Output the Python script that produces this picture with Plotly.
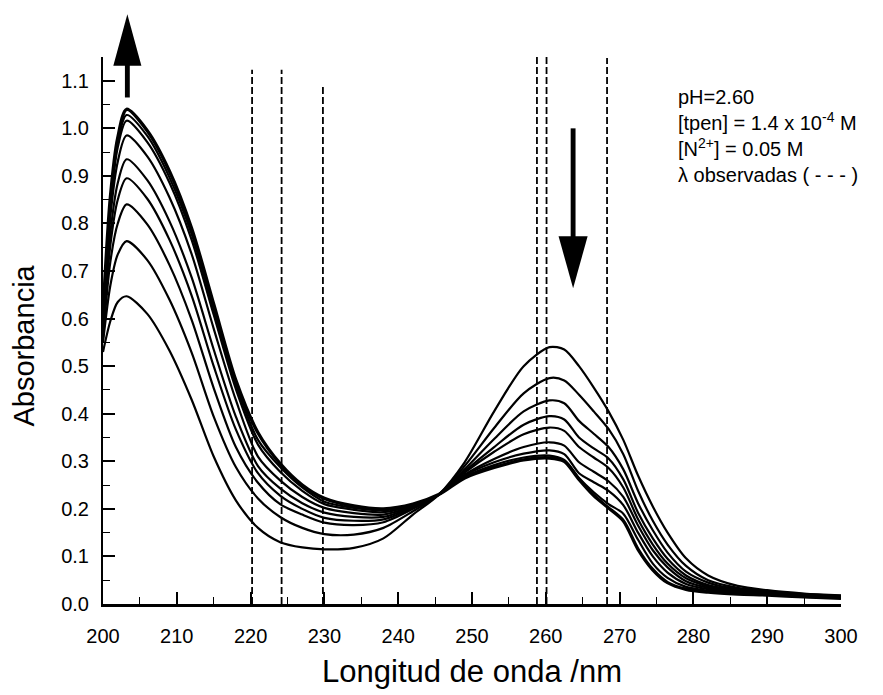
import plotly.graph_objects as go

# ---------------- data ----------------
wavelength = [200, 201, 202, 203.2, 206, 209, 212, 215, 218, 221, 224, 227, 230, 234, 238,
              242, 245.5, 249, 253, 257, 260.5, 262.5, 264.5, 266.5, 268.5, 270.5, 272.5,
              274.5, 276.5, 279, 282, 286, 290, 295, 300]

abs_1 = [.53, .595, .635, .647, .61, .533, .43, .31, .218, .16, .13, .119, .115, .118, .138,
         .188, .23, .298, .405, .50, .54, .535, .50, .455, .405, .345, .27,
         .205, .15, .096, .06, .038, .029, .022, .018]
abs_2 = [.55, .67, .735, .763, .723, .640, .529, .394, .288, .222, .183, .16, .147, .146, .16,
         .195, .23, .29, .37, .443, .475, .47, .44, .405, .368, .315, .238,
         .175, .125, .08, .05, .034, .027, .021, .017]
abs_3 = [.56, .72, .80, .84, .798, .713, .598, .454, .33, .255, .21, .188, .171, .166, .172,
         .20, .23, .283, .347, .405, .428, .422, .385, .358, .33, .283, .212,
         .155, .108, .068, .045, .031, .025, .019, .016]
abs_4 = [.57, .755, .85, .895, .852, .766, .649, .50, .367, .275, .228, .20, .181, .175, .178,
         .202, .23, .279, .33, .377, .395, .388, .35, .327, .306, .262, .192,
         .138, .095, .06, .04, .029, .024, .018, .015]
abs_5 = [.58, .78, .885, .935, .891, .805, .687, .535, .394, .29, .243, .212, .192, .183, .183,
         .204, .23, .276, .32, .357, .371, .364, .33, .308, .286, .245, .178,
         .125, .085, .054, .037, .027, .023, .017, .015]
abs_6 = [.59, .815, .93, .985, .941, .855, .736, .579, .429, .31, .26, .225, .202, .191, .188,
         .206, .23, .272, .305, .33, .34, .333, .298, .278, .258, .225, .165,
         .113, .077, .048, .034, .025, .022, .016, .014]
abs_7 = [.60, .835, .96, 1.016, .971, .886, .766, .608, .452, .335, .278, .238, .21, .198, .193,
         .208, .23, .27, .298, .316, .323, .315, .275, .256, .238, .208, .15,
         .10, .066, .042, .031, .024, .021, .016, .013]
abs_8 = [.60, .845, .97, 1.028, .984, .897, .778, .619, .461, .345, .288, .245, .215, .202, .197,
         .209, .23, .267, .292, .308, .312, .303, .265, .235, .21, .19, .135,
         .085, .055, .036, .028, .022, .02, .015, .013]
abs_9 = [.61, .855, .98, 1.04, .995, .91, .79, .63, .47, .36, .295, .25, .222, .206, .20,
         .21, .23, .265, .287, .303, .307, .30, .262, .228, .202, .175, .115,
         .072, .045, .031, .025, .021, .019, .015, .012]

spectra = [abs_1, abs_2, abs_3, abs_4, abs_5, abs_6, abs_7, abs_8, abs_9]

lambda_obs = [220.2, 224.2, 229.8, 258.8, 260.1, 268.3]
lambda_obs_top = [1.123, 1.123, 1.092, 1.154, 1.154, 1.148]

x_ticks = [200, 210, 220, 230, 240, 250, 260, 270, 280, 290, 300]
y_ticks = [0.0, 0.1, 0.2, 0.3, 0.4, 0.5, 0.6, 0.7, 0.8, 0.9, 1.0, 1.1]

info_lines = ["pH=2.60",
              "[tpen] = 1.4 x 10<sup>-4</sup> M",
              "[N<sup>2+</sup>] = 0.05 M",
              "λ observadas ( - - - )"]

# ---------------- figure ----------------
FONT = "Liberation Sans, Arial, sans-serif"
fig = go.Figure()

for w, top in zip(lambda_obs, lambda_obs_top):
    fig.add_trace(go.Scatter(x=[w, w], y=[0, top], mode="lines",
                             line=dict(color="black", width=1.8, dash="7px,3px"),
                             showlegend=False, hoverinfo="skip", cliponaxis=False))

for i, s in enumerate(spectra):
    fig.add_trace(go.Scatter(x=wavelength, y=s, mode="lines",
                             line=dict(color="black", width=3.4 if i == len(spectra) - 1 else 2.2,
                                       shape="spline", smoothing=0.8),
                             showlegend=False))

# arrows (shapes)
shapes = []
xa = 203.3
shapes.append(dict(type="rect", xref="x", yref="paper", x0=xa - 0.33, x1=xa + 0.33,
                   y0=0.926, y1=0.99, fillcolor="black", line=dict(width=0)))
shapes.append(dict(type="path", xref="x", yref="paper",
                   path=f"M {xa-1.9},0.984 L {xa+1.9},0.984 L {xa},1.078 Z",
                   fillcolor="black", line=dict(width=0)))
xb = 263.7
shapes.append(dict(type="rect", xref="x", yref="y", x0=xb - 0.33, x1=xb + 0.33,
                   y0=0.76, y1=1.0, fillcolor="black", line=dict(width=0)))
shapes.append(dict(type="path", xref="x", yref="y",
                   path=f"M {xb-1.97},0.773 L {xb+1.97},0.773 L {xb},0.664 Z",
                   fillcolor="black", line=dict(width=0)))

annotations = [
    dict(text="<br>".join(info_lines), xref="paper", yref="paper", x=0.7765,
         y=(612.5 - 137) / 555.5, xanchor="left", yanchor="middle", align="left",
         showarrow=False, font=dict(family=FONT, size=20, color="black")),
    dict(text="Absorbancia", xref="paper", yref="paper", x=(24 - 103) / 738,
         y=(612.5 - 350) / 555.5, xanchor="center", yanchor="middle", textangle=-90,
         showarrow=False, font=dict(family=FONT, size=29, color="black")),
]

fig.update_layout(
    width=883, height=695,
    margin=dict(l=103, r=42, t=57, b=82.5),
    paper_bgcolor="white", plot_bgcolor="white",
    font=dict(family=FONT, color="black"),
    shapes=shapes, annotations=annotations,
    showlegend=False,
)

fig.update_xaxes(range=[200, 300], tickvals=x_ticks, ticktext=[str(v) for v in x_ticks],
                 ticks="inside", ticklen=12, tickwidth=1.6, tickcolor="black",
                 minor=dict(dtick=5, ticks="inside", ticklen=7, tickwidth=1.4, tickcolor="black"),
                 showline=True, linecolor="black", linewidth=2.5, showgrid=False, zeroline=False,
                 tickfont=dict(family=FONT, size=20), ticklabelstandoff=12,
                 title=dict(text="Longitud de onda /nm", font=dict(family=FONT, size=31), standoff=15))
fig.update_yaxes(range=[0, 1.15], tickvals=y_ticks, ticktext=[f"{v:.1f}" for v in y_ticks],
                 ticks="inside", ticklen=12, tickwidth=1.6, tickcolor="black",
                 minor=dict(dtick=0.05, ticks="inside", ticklen=7, tickwidth=1.4, tickcolor="black"),
                 showline=True, linecolor="black", linewidth=2, showgrid=False, zeroline=False,
                 tickfont=dict(family=FONT, size=20), ticklabelstandoff=8)

fig.write_html("out.html", config={"displayModeBar": False},
               post_script="document.body.style.margin='0';")
